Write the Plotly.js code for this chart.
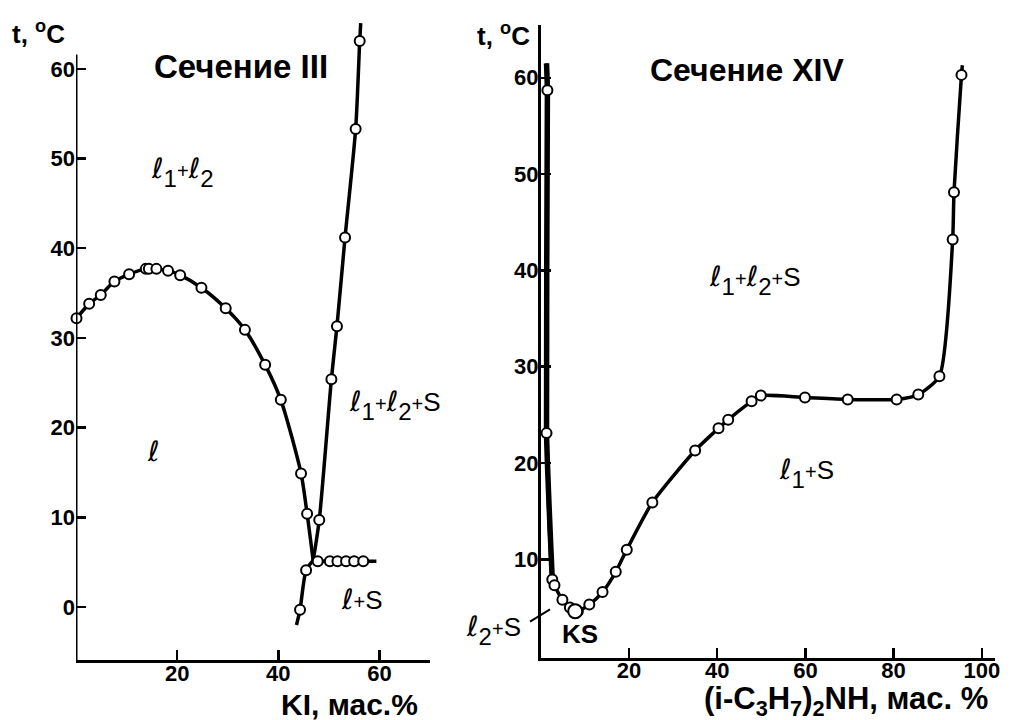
<!DOCTYPE html>
<html>
<head>
<meta charset="utf-8">
<script src="https://cdn.plot.ly/plotly-3.0.1.min.js"></script>
<style>html,body{margin:0;padding:0;background:#fff;}#chart{width:1013px;height:720px;}</style>
</head>
<body>
<div id="chart"></div>
<script>
// ---------- Сечение III (KI) ----------
const liqX = [0.1, 2.6, 4.9, 7.6, 10.5, 13.8, 14.4, 15.9, 18.2, 20.6, 24.8, 29.6, 33.4, 37.4, 40.5, 44.5, 45.7];
const liqY = [32.2, 33.8, 34.8, 36.3, 37.1, 37.7, 37.7, 37.7, 37.5, 37.0, 35.6, 33.3, 30.9, 27.0, 23.1, 14.9, 10.4];
const junctionIII = [46.9, 5.2];
const lowX = [45.5, 44.3];
const lowY = [4.1, -0.3];
const lowEnd = [43.6, -2.0];
const kiX = [48.1, 50.5, 51.6, 53.2, 55.3, 56.1];
const kiY = [9.7, 25.4, 31.3, 41.2, 53.3, 63.1];
const kiEnd = [56.3, 65.1];
const eutX = [47.8, 50.2, 51.7, 53.4, 55.0, 56.8];
const eutY = [5.1, 5.1, 5.1, 5.1, 5.1, 5.1];
const eutEnd = [59.4, 5.1];

// ---------- Сечение XIV ((i-C3H7)2NH) ----------
const topStart = [1.3, 61.5];
const curveX = [1.5, 1.3, 2.6, 3.1, 4.9, 6.6, 7.8, 8.4, 11.0, 14.0, 17.0, 19.5, 25.3, 35.0, 40.3, 42.5, 47.8, 49.9, 59.9, 69.6, 80.7, 85.6, 90.4, 93.4, 93.7, 95.4];
const curveY = [58.7, 23.1, 7.9, 7.3, 5.8, 5.0, 4.6, 4.6, 5.3, 6.6, 8.7, 11.0, 15.9, 21.3, 23.6, 24.5, 26.4, 27.0, 26.8, 26.6, 26.6, 27.1, 29.0, 43.2, 48.1, 60.3];
const curveEnd = [95.6, 61.3];
const ksPoint = [7.8, 4.6];

const ticksLeftX = [20, 40, 60];
const ticksLeftY = [0, 10, 20, 30, 40, 50, 60];
const ticksRightX = [20, 40, 60, 80, 100];
const ticksRightY = [10, 20, 30, 40, 50, 60];

const W = 1013, H = 720;
const px = v => v / W;
const py = v => 1 - v / H;

const lineStyle = {color: '#000', width: 3.5, shape: 'spline', smoothing: 0.7};
const mk = {symbol: 'circle', size: 10, color: '#fff', line: {color: '#000', width: 2}};

const traces = [
  {x: liqX.concat([junctionIII[0]]), y: liqY.concat([junctionIII[1]]), mode: 'lines', line: lineStyle, xaxis: 'x', yaxis: 'y'},
  {x: [junctionIII[0]].concat(lowX, [lowEnd[0]]), y: [junctionIII[1]].concat(lowY, [lowEnd[1]]), mode: 'lines', line: lineStyle, xaxis: 'x', yaxis: 'y'},
  {x: [junctionIII[0]].concat(kiX, [kiEnd[0]]), y: [junctionIII[1]].concat(kiY, [kiEnd[1]]), mode: 'lines', line: lineStyle, xaxis: 'x', yaxis: 'y'},
  {x: [junctionIII[0]].concat(eutX, [eutEnd[0]]), y: [junctionIII[1]].concat(eutY, [eutEnd[1]]), mode: 'lines', line: {color: '#000', width: 3.5}, xaxis: 'x', yaxis: 'y'},
  {x: liqX.concat(lowX, kiX, eutX), y: liqY.concat(lowY, kiY, eutY), mode: 'markers', marker: mk, cliponaxis: false, xaxis: 'x', yaxis: 'y'},
  {x: [topStart[0]].concat(curveX.slice(0, 3)), y: [topStart[1]].concat(curveY.slice(0, 3)), mode: 'lines', line: {color: '#000', width: 5.5, shape: 'spline', smoothing: 0.5}, xaxis: 'x2', yaxis: 'y2'},
  {x: [topStart[0]].concat(curveX, [curveEnd[0]]), y: [topStart[1]].concat(curveY, [curveEnd[1]]), mode: 'lines', line: {color: '#000', width: 3.5, shape: 'spline', smoothing: 0.6}, xaxis: 'x2', yaxis: 'y2'},
  {x: curveX, y: curveY, mode: 'markers', marker: mk, cliponaxis: false, xaxis: 'x2', yaxis: 'y2'},
  {x: [ksPoint[0]], y: [ksPoint[1]], mode: 'markers', marker: {symbol: 'circle', size: 14, color: '#fff', line: {color: '#000', width: 2}}, cliponaxis: false, xaxis: 'x2', yaxis: 'y2'}
];

const FAM = 'Liberation Sans, Arial, sans-serif';
const tickFont = {family: FAM, size: 22, color: '#000', weight: 'bold'};
const boldTicks = v => v.map(t => '<b>' + t + '</b>');
const axBase = {showgrid: false, zeroline: false, ticks: 'inside', ticklen: 10, tickwidth: 2.5, tickcolor: '#000', tickfont: tickFont, linecolor: '#000', linewidth: 3, fixedrange: true, tickmode: 'array'};

const bold = size => ({family: FAM, size: size, color: '#000', weight: 700});
const reg = size => ({family: FAM, size: size, color: '#000'});
const L = '<span style="font-family:DejaVu Sans;font-style:italic;font-size:28px">ℓ</span>';
const sub = d => '<sub><sub><span style="font-size:24px">' + d + '</span></sub></sub>';
const plus = '<span style="font-size:20px">+</span>';

function ann(text, xref, yref, x, y, font) {
  return {text: text, xref: xref, yref: yref, x: x, y: y, showarrow: false, font: font, xanchor: 'center', yanchor: 'middle'};
}

const annotations = [
  ann('<b>t, <sup>o</sup>C</b>', 'paper', 'paper', px(38), py(33), bold(26)),
  ann('<b>t, <sup>o</sup>C</b>', 'paper', 'paper', px(503), py(34), bold(26)),
  ann('<b>Сечение III</b>', 'paper', 'paper', px(241), py(66), bold(33)),
  ann('<b>Сечение XIV</b>', 'paper', 'paper', px(747), py(70), bold(32)),
  ann('<b>KI, мас.%</b>', 'paper', 'paper', px(349), py(704), bold(30)),
  ann('<b>(i-C<sub>3</sub>H<sub>7</sub>)<sub>2</sub>NH, мас. %</b>', 'paper', 'paper', px(846), py(701), bold(31)),
  ann(L + sub(1) + plus + L + sub(2), 'x', 'y', 21, 48.5, reg(26)),
  ann(L, 'x', 'y', 15.4, 17.3, reg(26)),
  ann(L + sub(1) + plus + L + sub(2) + plus + 'S', 'x', 'y', 63, 22.5, reg(26)),
  ann(L + plus + 'S', 'x', 'y', 56.5, 0.8, reg(26)),
  ann(L + sub(1) + plus + L + sub(2) + plus + 'S', 'x2', 'y2', 48.6, 39, reg(26)),
  ann(L + sub(1) + plus + 'S', 'x2', 'y2', 60.2, 19, reg(26)),
  ann(L + sub(2) + plus + 'S', 'paper', 'paper', px(493), py(630), reg(26)),
  ann('<b>KS</b>', 'x2', 'y2', 8.9, 2.2, bold(26))
];

const shapes = [
  {type: 'line', xref: 'x', yref: 'y', x0: 0, x1: 0, y0: -5.9, y1: 61.6, line: {color: '#000', width: 3}},
  {type: 'line', xref: 'paper', yref: 'paper', x0: px(530), x1: px(550), y0: py(621.7), y1: py(609.3), line: {color: '#000', width: 2}}
];

const layout = {
  width: W, height: H,
  margin: {l: 0, r: 0, t: 0, b: 0},
  paper_bgcolor: '#fff', plot_bgcolor: 'rgba(0,0,0,0)',
  showlegend: false,
  xaxis: Object.assign({}, axBase, {domain: [px(76), px(430)], range: [0, 70], tickvals: ticksLeftX, ticktext: boldTicks(ticksLeftX), showline: true, anchor: 'y', ticklabelstandoff: -8}),
  yaxis: Object.assign({}, axBase, {domain: [py(660), py(15)], range: [-5.9, 66], tickvals: ticksLeftY, ticktext: boldTicks(ticksLeftY), showline: false, anchor: 'x'}),
  xaxis2: Object.assign({}, axBase, {domain: [px(540.8), px(995)], range: [0, 103], tickvals: ticksRightX, ticktext: boldTicks(ticksRightX), showline: true, anchor: 'y2', ticklabelstandoff: -9}),
  yaxis2: Object.assign({}, axBase, {domain: [py(657.5), py(24.8)], range: [-0.2, 65.5], tickvals: ticksRightY, ticktext: boldTicks(ticksRightY), showline: true, anchor: 'x2', ticklabelstandoff: -5}),
  annotations: annotations,
  shapes: shapes
};

Plotly.newPlot('chart', traces, layout, {displayModeBar: false, staticPlot: true});
</script>
</body>
</html>
